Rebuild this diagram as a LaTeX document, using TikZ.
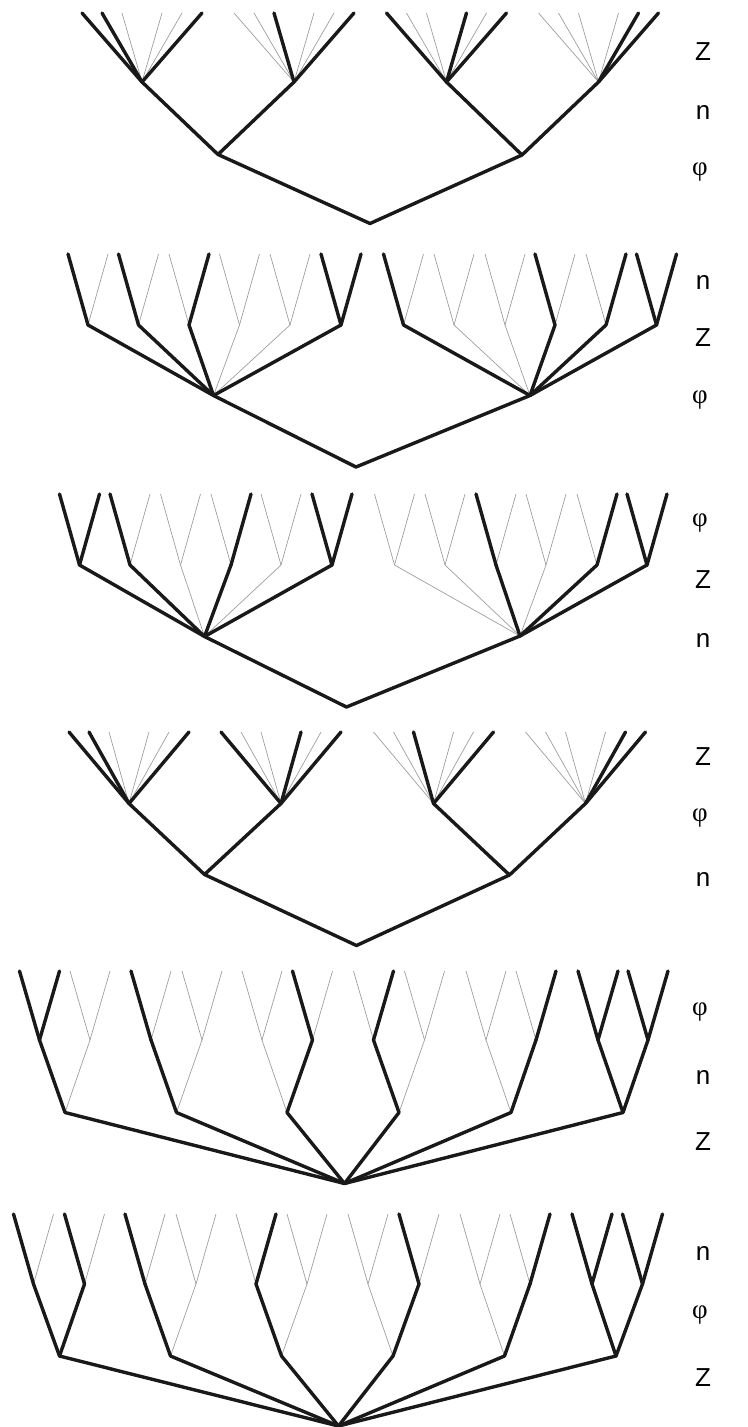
\documentclass[tikz,border=0pt]{standalone}
\usepackage{fontspec}
\newfontfamily\lblsans{Liberation Sans}
\newfontfamily\lblserif{Liberation Serif}
\usetikzlibrary{calc}
\newcommand\fannode[4]{%
  \coordinate (#1) at (#2,#3);
  \foreach \i/\dx in {1/-60,2/-40,3/-20,4/20,5/40,6/60} {\coordinate (#1-\i) at (#2+\dx,#4);}}
\newcommand\binlvl[4]{%
  \foreach \x [count=\k] in {#4} {%
    \coordinate (#1n\k) at (\x,#2);
    \coordinate (#1n\k-1) at (\x-20,#3);
    \coordinate (#1n\k-2) at (\x+20,#3);}}
\newcommand\leafedges[2]{%
  \foreach \p/\ls in {#2} {\foreach \i in \ls {\draw[#1] (\p-\i) -- (\p);}}}
\begin{document}
\begin{tikzpicture}[x=1pt,y=-1pt,
  thk/.style={line width=3.4pt,line cap=round,line join=round,black!90},
  thn/.style={line width=0.7pt,black!38},
  lbl/.style={font=\fontsize{26}{26}\selectfont\lblsans,inner sep=0pt},
  lblphi/.style={font=\fontsize{27}{27}\selectfont\lblserif,inner sep=0pt}]
\useasboundingbox (0,0) rectangle (747,1427);

% ---------- Panel 1 ----------
\fannode{p1A}{142}{82}{13}
\fannode{p1B}{294}{82}{13}
\fannode{p1D}{446.5}{82}{13}
\fannode{p1E}{598.5}{82}{13}
\coordinate (p1C) at (218,154.5);
\coordinate (p1F) at (522,155);
\coordinate (r1) at (370,223.5);
\leafedges{thn}{p1A/{3,4,5}, p1B/{1,2,4,5}, p1D/{2,3,5}, p1E/{1,2,3,4}}
\leafedges{thk}{p1A/{1,2,6}, p1B/{3,6}, p1D/{1,4,6}, p1E/{5,6}}
\draw[thk] (p1A) -- (p1C) -- (p1B);
\draw[thk] (p1D) -- (p1F) -- (p1E);
\draw[thk] (p1C) -- (r1) -- (p1F);

% ---------- Panel 2 ----------
\binlvl{p2}{325}{254}{88,138.5,189,239.5,290,341,403.5,454,505,555,606,656.5}
\coordinate (p2m1) at (213.5,395.5);
\coordinate (p2m2) at (530,395.5);
\coordinate (r2) at (356,467);
\leafedges{thn}{p2n1/{2}, p2n2/{2}, p2n3/{1}, p2n4/{1,2}, p2n5/{1,2}, p2n7/{2}, p2n8/{1,2}, p2n9/{1,2}, p2n10/{2}, p2n11/{1}}
\foreach \k in {4,5} {\draw[thn] (p2n\k) -- (p2m1);}
\foreach \k in {8,9} {\draw[thn] (p2n\k) -- (p2m2);}
\leafedges{thk}{p2n1/{1}, p2n2/{1}, p2n3/{2}, p2n6/{1,2}, p2n7/{1}, p2n10/{1}, p2n11/{2}, p2n12/{1,2}}
\foreach \k in {1,2,3,6} {\draw[thk] (p2n\k) -- (p2m1);}
\foreach \k in {7,10,11,12} {\draw[thk] (p2n\k) -- (p2m2);}
\draw[thk] (p2m1) -- (r2) -- (p2m2);

% ---------- Panel 3 ----------
\binlvl{p3}{565}{494}{79.5,130,180.5,231,281,332,394.5,445,496,546,597,647}
\coordinate (p3m1) at (204.5,636.5);
\coordinate (p3m2) at (520,636);
\coordinate (r3) at (346.5,707);
\leafedges{thn}{p3n2/{2}, p3n3/{1,2}, p3n4/{1}, p3n5/{1,2}, p3n7/{1,2}, p3n8/{1,2}, p3n9/{2}, p3n10/{1,2}, p3n11/{1}}
\foreach \k in {3,5} {\draw[thn] (p3n\k) -- (p3m1);}
\foreach \k in {7,8,10} {\draw[thn] (p3n\k) -- (p3m2);}
\leafedges{thk}{p3n1/{1,2}, p3n2/{1}, p3n4/{2}, p3n6/{1,2}, p3n9/{1}, p3n11/{2}, p3n12/{1,2}}
\foreach \k in {1,2,4,6} {\draw[thk] (p3n\k) -- (p3m1);}
\foreach \k in {9,11,12} {\draw[thk] (p3n\k) -- (p3m2);}
\draw[thk] (p3m1) -- (r3) -- (p3m2);

% ---------- Panel 4 ----------
\fannode{p4c1}{129}{803.5}{732}
\fannode{p4c2}{281}{803.5}{732}
\fannode{p4d1}{433.5}{803.5}{732}
\fannode{p4d2}{585.5}{803.5}{732}
\coordinate (p4c) at (204.5,874.5);
\coordinate (p4d) at (509.5,875);
\coordinate (r4) at (356.5,945.5);
\leafedges{thn}{p4c1/{3,4,5}, p4c2/{2,3,5}, p4d1/{1,2,4,5}, p4d2/{1,2,3,4}}
\leafedges{thk}{p4c1/{1,2,6}, p4c2/{1,4,6}, p4d1/{3,6}, p4d2/{5,6}}
\draw[thk] (p4c1) -- (p4c) -- (p4c2);
\draw[thk] (p4d1) -- (p4d) -- (p4d2);
\draw[thk] (p4c) -- (r4) -- (p4d);

% ---------- Panel 5 ----------
\binlvl{p5}{1040}{971}{39.5,90,151,202,262,312.5,373.5,424.5,486,536,598,648}
\foreach \x [count=\k] in {65,176.5,287,399,511,623} {\coordinate (p5e\k) at (\x,1112.5);}
\coordinate (r5) at (344.5,1183.5);
\leafedges{thn}{p5n2/{1,2}, p5n3/{2}, p5n4/{1,2}, p5n5/{1,2}, p5n6/{2}, p5n7/{1}, p5n8/{1,2}, p5n9/{1,2}, p5n10/{1}}
\foreach \e/\k in {1/2,2/4,3/5,4/8,5/9} {\draw[thn] (p5n\k) -- (p5e\e);}
\leafedges{thk}{p5n1/{1,2}, p5n3/{1}, p5n6/{1}, p5n7/{2}, p5n10/{2}, p5n11/{1,2}, p5n12/{1,2}}
\foreach \e/\k in {1/1,2/3,3/6,4/7,5/10,6/11,6/12} {\draw[thk] (p5n\k) -- (p5e\e);}
\foreach \e in {1,...,6} {\draw[thk] (p5e\e) -- (r5);}

% ---------- Panel 6 ----------
\binlvl{p6}{1284}{1214}{33.5,84.5,145,196,256,307,368,419,480,530,592,642.5}
\foreach \x [count=\k] in {59.5,170.5,281.5,393,504.5,616} {\coordinate (p6e\k) at (\x,1356);}
\coordinate (r6) at (338.5,1426);
\leafedges{thn}{p6n1/{2}, p6n2/{2}, p6n3/{2}, p6n4/{1,2}, p6n5/{1}, p6n6/{1,2}, p6n7/{1,2}, p6n8/{2}, p6n9/{1,2}, p6n10/{1}}
\foreach \e/\k in {2/4,3/6,4/7,5/9} {\draw[thn] (p6n\k) -- (p6e\e);}
\leafedges{thk}{p6n1/{1}, p6n2/{1}, p6n3/{1}, p6n5/{2}, p6n8/{1}, p6n10/{2}, p6n11/{1,2}, p6n12/{1,2}}
\foreach \e/\k in {1/1,1/2,2/3,3/5,4/8,5/10,6/11,6/12} {\draw[thk] (p6n\k) -- (p6e\e);}
\foreach \e in {1,...,6} {\draw[thk] (p6e\e) -- (r6);}

% ---------- Labels ----------
\node[lbl] (l1a) at (703,52) {Z};
\node[lbl] (l1b) at (703,113) {n};
\node[lblphi] (l1c) at (700,172) {φ};
\node[lbl] (l2a) at (703,283) {n};
\node[lbl] (l2b) at (703,338) {Z};
\node[lblphi] (l2c) at (700,400) {φ};
\node[lblphi] (l3a) at (700,523) {φ};
\node[lbl] (l3b) at (703,580) {Z};
\node[lbl] (l3c) at (703,640) {n};
\node[lbl] (l4a) at (703,757) {Z};
\node[lblphi] (l4b) at (700,818) {φ};
\node[lbl] (l4c) at (703,879) {n};
\node[lblphi] (l5a) at (700,1012) {φ};
\node[lbl] (l5b) at (703,1077) {n};
\node[lbl] (l5c) at (703,1142) {Z};
\node[lbl] (l6a) at (703,1253) {n};
\node[lblphi] (l6b) at (700,1315) {φ};
\node[lbl] (l6c) at (703,1378) {Z};
\end{tikzpicture}
\end{document}
